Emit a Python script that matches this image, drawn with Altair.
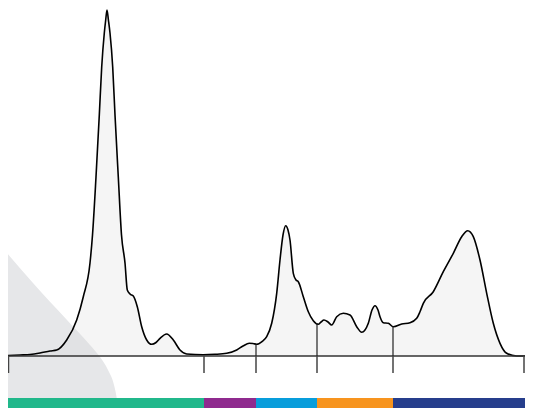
import altair as alt
import pandas as pd
import numpy as np

# Density curve: position on the score scale, density height
curve_x = [8, 20, 30, 40, 50, 56.7, 66.7, 76.7, 83.3, 90, 92.5, 96, 99.3, 101.7, 104.3, 105.7, 107,
           108.4, 110, 112.7, 115, 118.3, 121.5, 125, 127.3, 130, 133.3, 137.3, 141.7, 146.7, 151.7,
           156, 160, 166.7, 173.3, 180, 186.7, 203.3, 215, 226.7, 236.7, 243, 249.3, 253, 256.7, 262,
           266.7, 271.7, 276.7, 280, 283, 285.7, 288, 290, 293.3, 296, 298.3, 303.3, 308.3, 313.3,
           318.3, 321, 324, 328, 331.7, 336.7, 343.3, 350, 356.7, 361.7, 368.3, 372, 375, 378, 380,
           383.3, 388.3, 393.3, 401.7, 410, 416.7, 420, 423.3, 433.3, 443.3, 453.3, 461.7, 467.7,
           473.3, 480, 486.7, 493.3, 500, 506.7, 516.7, 525]
curve_y = [0.5, 1, 1.5, 3, 5, 6, 16, 36, 59.3, 93, 121, 179, 241, 289, 323, 336, 346,
           336, 323, 289, 241, 179, 121, 93, 66, 62, 60, 49.3, 29.3, 16, 11.7,
           13.5, 17.7, 22, 16, 6, 2, 1.3, 1.7, 2.7, 6, 10, 12.7, 12.5, 11.7, 14.5,
           19.3, 32.7, 62.7, 96, 121, 130.3, 126, 116, 82.7, 76, 74.3, 59.3, 44.3, 35.3,
           31.7, 34, 36, 34, 31, 39.3, 42.7, 41, 29.3, 23.7, 32.7, 46, 50.3, 46, 39.3,
           33.3, 32.7, 29.3, 32, 33.3, 37.7, 44.3, 52.7, 64.3, 84.3, 102.7, 119.3, 125.3,
           119.3, 96, 62.7, 32.7, 12.7, 2.7, 0, 0]

# Axis tick positions and highlighted cut points
tick_x = [8.5, 204, 256, 317, 393, 524]
cut_x = [256, 317, 393]

# Colour bands along the scale
band_start = [7, 204, 256, 317, 393]
band_end = [204, 256, 317, 393, 525]
band_color = ["#21B88B", "#8F2A8E", "#089DDB", "#F7941E", "#263E8C"]

# Decorative background shape (top edge)
deco_x = [0, 33, 67, 90, 100, 108, 114, 117, 118]
deco_y = [111, 73, 36, 11, -1, -14, -29, -44, -52]

xs = alt.Scale(domain=[8, 525])
ys = alt.Scale(domain=[0, 348])

curve = pd.DataFrame({"x": curve_x, "y": curve_y})
deco = pd.DataFrame({"x": deco_x, "y": deco_y, "y2": [-52] * len(deco_x)})
ticks = pd.DataFrame({"x": tick_x, "y": [0] * len(tick_x), "y2": [-17] * len(tick_x)})
cuts = pd.DataFrame({"x": cut_x, "y": [0] * len(cut_x),
                     "y2": np.interp(cut_x, curve_x, curve_y)})
bands = pd.DataFrame({"x": band_start, "x2": band_end, "c": band_color})
base = pd.DataFrame({"x": [7], "x2": [525], "y": [0]})

deco_layer = alt.Chart(deco).mark_area(color="#E6E7E9", interpolate="monotone").encode(
    x=alt.X("x:Q", scale=xs, axis=None),
    y=alt.Y("y:Q", scale=ys, axis=None),
    y2="y2:Q",
)
fill_layer = alt.Chart(curve).mark_area(color="#D0D0D0", opacity=0.22, interpolate="monotone").encode(
    x=alt.X("x:Q", scale=xs, axis=None),
    y=alt.Y("y:Q", scale=ys, axis=None),
)
line_layer = alt.Chart(curve).mark_line(color="#000000", strokeWidth=1.6, interpolate="monotone").encode(
    x=alt.X("x:Q", scale=xs, axis=None),
    y=alt.Y("y:Q", scale=ys, axis=None),
)
base_layer = alt.Chart(base).mark_rule(color="#333333", strokeWidth=1.5).encode(
    x=alt.X("x:Q", scale=xs, axis=None),
    x2="x2:Q",
    y=alt.Y("y:Q", scale=ys, axis=None),
)
tick_layer = alt.Chart(ticks).mark_rule(color="#444444", strokeWidth=1.5).encode(
    x=alt.X("x:Q", scale=xs, axis=None),
    y=alt.Y("y:Q", scale=ys, axis=None),
    y2="y2:Q",
)
cut_layer = alt.Chart(cuts).mark_rule(color="#222222", strokeWidth=1.2).encode(
    x=alt.X("x:Q", scale=xs, axis=None),
    y=alt.Y("y:Q", scale=ys, axis=None),
    y2="y2:Q",
)
band_layer = alt.Chart(bands).mark_rect().encode(
    x=alt.X("x:Q", scale=xs, axis=None),
    x2="x2:Q",
    y=alt.value(390),
    y2=alt.value(400),
    color=alt.Color("c:N", scale=None, legend=None),
)

chart = alt.layer(
    deco_layer, fill_layer, line_layer, base_layer, tick_layer, cut_layer, band_layer
).properties(
    width=517, height=348,
    autosize=alt.AutoSizeParams(type="none"),
    padding={"left": 0, "top": 0, "right": 0, "bottom": 52},
).configure_view(stroke=None)

chart.save("out.html", embed_options={"renderer": "svg", "actions": False})
